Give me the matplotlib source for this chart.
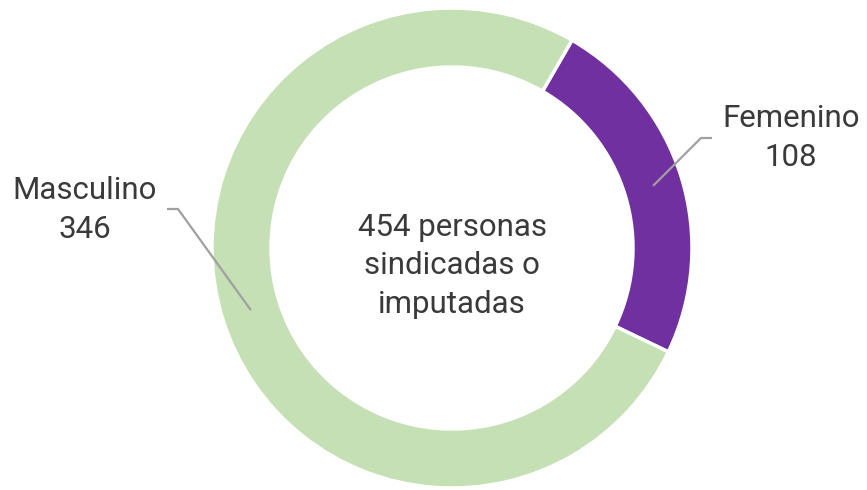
import matplotlib.pyplot as plt
import numpy as np

plt.rcParams["font.family"] = ["Roboto", "DejaVu Sans"]

# Personas sindicadas o imputadas por sexo
labels = ["Femenino", "Masculino"]
values = [108, 346]
colors = ["#7030a0", "#c5e0b4"]

W, H = 867, 490
fig = plt.figure(figsize=(W / 100, H / 100), dpi=100)
ax = fig.add_axes([0, 0, 1, 1])

cx, cy = 452, 242
r_out = 240
ring = 59
start = 60

wedges, _ = ax.pie(values, colors=colors, startangle=start, counterclock=False,
                   radius=r_out, center=(cx, cy), frame=True,
                   wedgeprops=dict(width=ring, edgecolor="white", linewidth=2.5))
ax.set_xlim(0, W)
ax.set_ylim(0, H)
ax.set_aspect("equal")
ax.axis("off")

total = sum(values)
text_color = "#3a3a3a"
ax.text(cx, 224, f"{total} personas\nsindicadas o\nimputadas", ha="center", va="center",
        fontsize=22.5, color=text_color, linespacing=1.4)

# label centre, leader knee and leader tail for each wedge
label_pos = {"Femenino": (791, 352), "Masculino": (85, 280)}
knee = {"Femenino": (701, 352), "Masculino": (178, 281)}
tail = {"Femenino": (712, 352), "Masculino": (167, 281)}

r_mid = r_out - ring / 2
for w, lab, val in zip(wedges, labels, values):
    mid = np.deg2rad((w.theta1 + w.theta2) / 2)
    px, py = cx + r_mid * np.cos(mid), cy + r_mid * np.sin(mid)
    kx, ky = knee[lab]
    tx, ty = tail[lab]
    ax.plot([px, kx, tx], [py, ky, ty], color="#a0a0a0", lw=1.6, solid_capstyle="butt")
    lx, ly = label_pos[lab]
    ax.text(lx, ly, f"{lab}\n{val}", ha="center", va="center",
            fontsize=22.5, color=text_color, linespacing=1.4)

fig.savefig("out.png", dpi=100, facecolor="white")
